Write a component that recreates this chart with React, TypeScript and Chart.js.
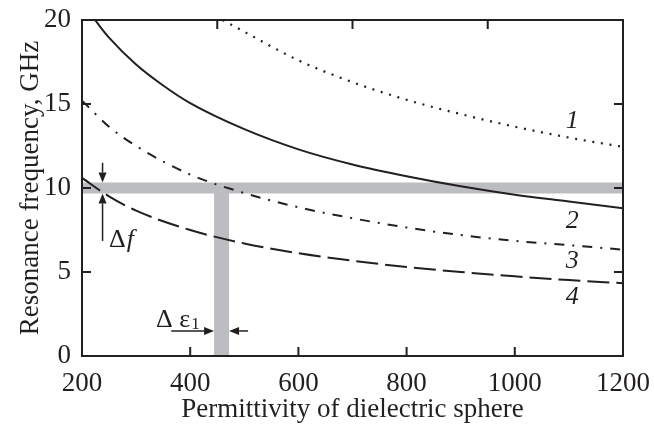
import React, { useEffect, useRef } from "react";
import { Chart, registerables } from "chart.js";
Chart.register(...registerables);

// ---- data ----
const epsTicks = [200, 400, 600, 800, 1000, 1200];
const freqTicks = [0, 5, 10, 15, 20];
const topTickMarks = [450, 700, 950];
const bottomTickMarks = [400, 600, 800, 1000];
const sideTickMarks = [5, 10, 15];

const eps1 = [460, 500, 600, 700, 800, 900, 1000, 1100, 1200];
const freq1 = [20.0, 19.3, 17.6, 16.3, 15.25, 14.4, 13.65, 13.0, 12.45];
const eps2 = [224, 250, 300, 350, 400, 500, 600, 700, 800, 900, 1000, 1100, 1200];
const freq2 = [20, 18.95, 17.35, 16.1, 15.05, 13.5, 12.3, 11.4, 10.7, 10.1, 9.6, 9.2, 8.8];
const eps34 = [200, 250, 300, 400, 500, 600, 700, 800, 900, 1000, 1100, 1200];
const freq3 = [15.2, 13.65, 12.5, 10.8, 9.7, 8.85, 8.2, 7.65, 7.2, 6.85, 6.6, 6.33];
const freq4 = [10.6, 9.5, 8.65, 7.5, 6.7, 6.12, 5.67, 5.3, 5.0, 4.74, 4.52, 4.33];

const bandFreq = 10;
const bandEps = 458;

const curveLabels = ["1", "2", "3", "4"];
const curveLabelEps = [1106, 1106, 1106, 1106];
const curveLabelFreq = [14.0, 8.04, 5.65, 3.48];

// annotation anchors (data coords)
const deltaFArrowEps = 238;
const deltaFArrowFrom = [11.5, 6.85];
const deltaFText = { eps: 250, freq: 6.5 };
const deltaEpsArrowFreq = 1.49;
const deltaEpsArrowFrom = [365, 507];
const deltaEpsText = { eps: 337, freq: 1.74 };

const INK = "#231f20";
const GRAY = "#bcbdc0";
const FONT = '"Liberation Serif", "Times New Roman", Times, serif';
const FS = 27;

function toPts(xs: number[], ys: number[]) {
  return xs.map((x, i) => ({ x, y: ys[i] }));
}

function arrow(ctx: CanvasRenderingContext2D, x1: number, y1: number, x2: number, y2: number) {
  const ang = Math.atan2(y2 - y1, x2 - x1);
  const hl = 10, hw = 4;
  const bx = x2 - hl * Math.cos(ang), by = y2 - hl * Math.sin(ang);
  ctx.beginPath();
  ctx.moveTo(x1, y1);
  ctx.lineTo(bx, by);
  ctx.stroke();
  ctx.beginPath();
  ctx.moveTo(x2, y2);
  ctx.lineTo(bx + hw * Math.sin(ang), by - hw * Math.cos(ang));
  ctx.lineTo(bx - hw * Math.sin(ang), by + hw * Math.cos(ang));
  ctx.closePath();
  ctx.fill();
}

const framePlugin = {
  id: "frame",
  afterDatasetsDraw(chart: any) {
    const { ctx, chartArea: a, scales } = chart;
    const xs = scales.x, ys = scales.y;
    ctx.save();
    ctx.strokeStyle = INK;
    ctx.fillStyle = INK;
    ctx.lineWidth = 2;
    ctx.strokeRect(a.left, a.top, a.right - a.left, a.bottom - a.top);
    const tl = 9;
    ctx.beginPath();
    bottomTickMarks.forEach((v) => {
      const x = xs.getPixelForValue(v);
      ctx.moveTo(x, a.bottom);
      ctx.lineTo(x, a.bottom - tl);
    });
    topTickMarks.forEach((v) => {
      const x = xs.getPixelForValue(v);
      ctx.moveTo(x, a.top);
      ctx.lineTo(x, a.top + tl);
    });
    sideTickMarks.forEach((v) => {
      const y = ys.getPixelForValue(v);
      ctx.moveTo(a.left, y);
      ctx.lineTo(a.left + tl, y);
      ctx.moveTo(a.right, y);
      ctx.lineTo(a.right - tl, y);
    });
    ctx.stroke();

    // curve numbers
    ctx.font = `italic 26px ${FONT}`;
    ctx.textAlign = "center";
    ctx.textBaseline = "middle";
    curveLabels.forEach((t, i) => {
      ctx.fillText(t, xs.getPixelForValue(curveLabelEps[i]), ys.getPixelForValue(curveLabelFreq[i]));
    });

    // arrows
    ctx.lineWidth = 1.5;
    const yBand = ys.getPixelForValue(bandFreq);
    const xBand = xs.getPixelForValue(bandEps);
    const hHalf = 5.5, vHalf = 7.5;
    const ax = xs.getPixelForValue(deltaFArrowEps);
    arrow(ctx, ax, ys.getPixelForValue(deltaFArrowFrom[0]), ax, yBand - hHalf);
    arrow(ctx, ax, ys.getPixelForValue(deltaFArrowFrom[1]), ax, yBand + hHalf);
    const ay = ys.getPixelForValue(deltaEpsArrowFreq);
    arrow(ctx, xs.getPixelForValue(deltaEpsArrowFrom[0]), ay, xBand - vHalf, ay);
    arrow(ctx, xs.getPixelForValue(deltaEpsArrowFrom[1]), ay, xBand + vHalf, ay);

    // texts
    ctx.textAlign = "left";
    ctx.textBaseline = "alphabetic";
    let tx = xs.getPixelForValue(deltaFText.eps);
    let ty = ys.getPixelForValue(deltaFText.freq);
    ctx.font = `26px ${FONT}`;
    ctx.fillText("Δ", tx, ty);
    tx += ctx.measureText("Δ").width + 1;
    ctx.font = `italic 26px ${FONT}`;
    ctx.fillText("f", tx, ty);

    tx = xs.getPixelForValue(deltaEpsText.eps);
    ty = ys.getPixelForValue(deltaEpsText.freq);
    ctx.font = `26px ${FONT}`;
    ctx.fillText("Δ ε", tx, ty);
    tx += ctx.measureText("Δ ε").width + 1;
    ctx.font = `17px ${FONT}`;
    ctx.fillText("1", tx, ty + 2);
    ctx.restore();
  },
};

function build(canvas: HTMLCanvasElement) {
  const common = { pointRadius: 0, fill: false, borderColor: INK, clip: 0 as any };
  return new Chart(canvas, {
    type: "line",
    data: {
      datasets: [
        { ...common, data: toPts(eps1, freq1), borderWidth: 2.2, borderDash: [2, 6.7], cubicInterpolationMode: "monotone", order: 0 } as any,
        { ...common, data: toPts(eps2, freq2), borderWidth: 2, cubicInterpolationMode: "monotone", order: 0 } as any,
        { ...common, data: toPts(eps34, freq3), borderWidth: 2, borderDash: [10, 8, 2, 8], cubicInterpolationMode: "monotone", order: 0 } as any,
        { ...common, data: toPts(eps34, freq4), borderWidth: 2, borderDash: [22, 7], cubicInterpolationMode: "monotone", order: 0 } as any,
        { data: [{ x: 200, y: bandFreq }, { x: 1200, y: bandFreq }], borderColor: GRAY, borderWidth: 11, pointRadius: 0, borderCapStyle: "butt", order: 5 } as any,
        { data: [{ x: bandEps, y: 0 }, { x: bandEps, y: bandFreq }], borderColor: GRAY, borderWidth: 15, pointRadius: 0, borderCapStyle: "butt", order: 5 } as any,
      ],
    },
    options: {
      animation: false,
      responsive: false,
      devicePixelRatio: 1,
      parsing: false as any,
      layout: { padding: { left: 0, top: 20, right: 31, bottom: 0 } },
      plugins: { legend: { display: false }, tooltip: { enabled: false } },
      scales: {
        x: {
          type: "linear",
          min: 200,
          max: 1200,
          afterBuildTicks: (s: any) => { s.ticks = epsTicks.map((v) => ({ value: v })); },
          afterFit: (s: any) => { s.height = 71; s.paddingLeft = 0; s.paddingRight = 0; },
          grid: { display: false, drawTicks: false },
          border: { display: false },
          ticks: { color: INK, font: { family: FONT, size: FS }, padding: 12, maxRotation: 0, callback: (v: any) => String(v) },
          title: { display: true, text: "Permittivity of dielectric sphere", color: INK, font: { family: FONT, size: FS }, padding: { top: 0, bottom: 1 } },
        },
        y: {
          type: "linear",
          min: 0,
          max: 20,
          afterBuildTicks: (s: any) => { s.ticks = freqTicks.map((v) => ({ value: v })); },
          afterFit: (s: any) => { s.width = 82; s.paddingTop = 0; s.paddingBottom = 0; },
          grid: { display: false, drawTicks: false },
          border: { display: false },
          ticks: { color: INK, font: { family: FONT, size: FS }, padding: 11, callback: (v: any) => String(v) },
          title: { display: true, text: "Resonance frequency, GHz", color: INK, font: { family: FONT, size: FS }, padding: { top: 15, bottom: 0 } },
        },
      },
    },
    plugins: [framePlugin],
  });
}

export default function App() {
  const ref = useRef<HTMLCanvasElement | null>(null);
  useEffect(() => {
    let chart: Chart | null = null;
    let cancelled = false;
    const fonts: any = (document as any).fonts;
    const loads = fonts
      ? Promise.all([
          fonts.load('22px "Liberation Serif"'),
          fonts.load('italic 22px "Liberation Serif"'),
        ]).catch(() => null)
      : Promise.resolve(null);
    loads.then(() => {
      if (!cancelled && ref.current) chart = build(ref.current);
    });
    return () => {
      cancelled = true;
      if (chart) chart.destroy();
    };
  }, []);
  return (
    <div style={{ position: "absolute", left: 0, top: 0, width: 654, height: 427, background: "#fff" }}>
      <canvas ref={ref} width={654} height={427} style={{ display: "block", width: 654, height: 427 }} />
    </div>
  );
}
